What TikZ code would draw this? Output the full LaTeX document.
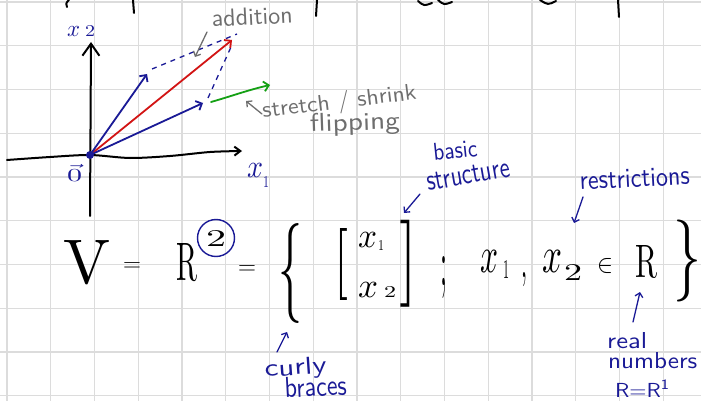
\documentclass[tikz,border=0pt]{standalone}
\usepackage{graphicx}
\usetikzlibrary{arrows.meta}
\definecolor{ink}{HTML}{1A1A96}
\definecolor{redpen}{HTML}{D21414}
\definecolor{grnpen}{HTML}{14A014}
\definecolor{grypen}{HTML}{6E6E6E}
\definecolor{gridc}{HTML}{DCDCDC}
\newcommand\hw[3]{\resizebox{#1pt}{#2pt}{#3}}
\newcommand\hwt[3]{\resizebox*{#1pt}{#2pt}{#3}}
\begin{document}
\begin{tikzpicture}[x=1pt,y=-1pt,
  lbl/.style={inner sep=0pt, anchor=base west},
  mid/.style={inner sep=0pt, anchor=center},
  vecarrow/.style={line width=1.8pt, line cap=round, -{Straight Barb[length=5pt,width=10pt]}},
  notearrow/.style={line width=1.3pt, line cap=round, -{Straight Barb[length=4pt,width=8pt]}},
  dashline/.style={ink, line width=1.3pt, dash pattern=on 5pt off 5pt},
  topstroke/.style={line width=2pt, line cap=round}]
\useasboundingbox (0,0) rectangle (701,401);
\fill[white] (0,0) rectangle (701,401);
% grid
\foreach \i in {0,...,15} \draw[gridc, line width=1.1pt] ({7+43.75*\i},0) -- ({7+43.75*\i},401);
\foreach \j in {0,...,9} \draw[gridc, line width=1.1pt] (0,{2+43.75*\j}) -- (701,{2+43.75*\j});
% cut-off strokes at the top
\draw[topstroke] (133,0) -- (134,13);
\draw[topstroke] (317,0) -- (316,16);
\draw[topstroke] (618,0) -- (619,17);
\draw[topstroke] (69,0) .. controls (66,3) .. (67,7);
\draw[topstroke] (418,1) .. controls (424,6) .. (432,3);
\draw[topstroke] (438,0) .. controls (444,5) .. (452,2);
\draw[topstroke] (540,0) .. controls (548,5) .. (556,1);
% axes
\coordinate (O) at (90,155);
\coordinate (ybot) at (90,216);
\coordinate (ytop) at (91,42);
\draw[line width=2pt, line cap=round, -{Straight Barb[length=12pt,width=17pt]}] (ybot) -- (ytop);
\draw[line width=2pt, line cap=round, -{Straight Barb[length=6pt,width=9pt]}]
  plot[smooth] coordinates {(7,160) (50,157) (90,155) (130,158) (170,156) (210,152) (242,151)};
% vectors
\coordinate (A) at (147,74);
\coordinate (B) at (203,103);
\coordinate (C) at (232,40);
\coordinate (G0) at (211,102);
\coordinate (G1) at (270,85);
\coordinate (D0) at (152,69);
\coordinate (D1) at (237,34);
\coordinate (E0) at (208,98);
\coordinate (E1) at (231,47);
\draw[dashline] (D0) -- (D1);
\draw[dashline] (E0) -- (E1);
\draw[vecarrow, redpen] (O) -- (C);
\draw[vecarrow, ink] (O) -- (A);
\draw[vecarrow, ink] (O) -- (B);
\draw[vecarrow, grnpen] (G0) .. controls (232,96) and (248,90) .. (G1);
\fill[ink] (O) circle (4pt);
% axis labels
\node[lbl, text=ink] (x2lab) at (67,37) {\hw{13}{10}{$x$}\hspace{5pt}\hw{10}{11}{2}};
\node[lbl, text=ink] (zero) at (67,181) {\hw{15}{17}{$\vec{0}$}};
\node[lbl, text=ink] (x1lab) at (247,177) {\hw{16}{14}{$x$}\raisebox{-10pt}{\hw{6}{11}{1}}};
% gray notes
\node[lbl, rotate=3, text=grypen] (addlab) at (212,27) {\hw{81}{17}{\sffamily addition}};
\coordinate (addA) at (207,32);
\coordinate (addB) at (195,57);
\draw[notearrow, grypen] (addA) -- (addB);
\node[lbl, rotate=7, text=grypen] (stlab) at (263,118) {\hw{155}{17}{\sffamily stretch / shrink}};
\node[lbl, rotate=2, text=grypen] (fliplab) at (310,132) {\hw{90}{18}{\sffamily flipping}};
\coordinate (stA) at (262,114);
\coordinate (stB) at (246,101);
\draw[notearrow, grypen] (stA) -- (stB);
% equation
\node[lbl] (V) at (63,283) {\hw{47}{43}{V}};
\node[inner sep=0pt, anchor=base] (eqa) at (132,271) {\fontsize{24}{24}\selectfont$=$};
\node[lbl] (R2) at (176,280) {\hw{21}{37}{R}};
\node[circle, draw=ink, line width=1.4pt, minimum size=37pt, inner sep=0pt] (c2) at (216,238) {\hw{20}{16}{2}};
\node[inner sep=0pt, anchor=base] (eqb) at (247,274.5) {\fontsize{30}{30}\selectfont$=$};
\node[mid] (lbrace) at (290,273) {\hwt{24}{100}{$\{$}};
\node[mid] (lbrack) at (341,264) {\hwt{14}{72}{$[$}};
\node[lbl] (m1x) at (358,247) {\hw{19}{15}{$x$}};
\node[lbl] (m1s) at (378,250) {\hw{6}{10}{1}};
\node[lbl] (m2x) at (358,297) {\hw{20}{15}{$x$}};
\node[lbl] (m2s) at (384,297) {\hw{12}{11}{2}};
\node[mid] (rbrack) at (408,263.5) {\hwt{18}{87}{$]$}};
\node[lbl] (semi) at (440,285) {\hw{7}{29}{;}};
\node[lbl] (ax1) at (480,272) {\hw{18}{22}{$x$}};
\node[lbl] (as1) at (503,278) {\hw{6}{18}{1}};
\node[lbl] (comma) at (521,277) {\hw{6}{5}{,}};
\node[lbl] (ax2) at (542,272) {\hw{20}{22}{$x$}};
\node[lbl] (as2) at (564,280) {\hw{18}{16}{2}};
\node[lbl] (elem) at (597,272) {\hw{16}{14}{$\in$}};
\node[lbl] (Rr) at (635,277) {\hw{22}{32}{R}};
\node[mid] (rbrace) at (687,261) {\hwt{28}{82}{$\}$}};
% blue notes
\node[lbl, rotate=6, text=ink] (basic) at (434,161) {\hw{44}{17}{\sffamily basic}};
\node[lbl, rotate=10, text=ink] (struct) at (428,191) {\hw{84}{17}{\sffamily structure}};
\coordinate (bsA) at (420,194);
\coordinate (bsB) at (404,213);
\draw[notearrow, ink] (bsA) -- (bsB);
\node[lbl, rotate=3, text=ink] (restr) at (580,190) {\hw{110}{18}{\sffamily restrictions}};
\coordinate (reA) at (583,197);
\coordinate (reB) at (574,223);
\draw[notearrow, ink] (reA) -- (reB);
\node[lbl, rotate=4, text=ink] (curly) at (265,377) {\hw{62}{17}{\sffamily curly}};
\node[lbl, rotate=3, text=ink] (braces) at (285,398) {\hw{62}{20}{\sffamily braces}};
\coordinate (cbA) at (277,352);
\coordinate (cbB) at (287,332);
\draw[notearrow, ink] (cbA) -- (cbB);
\node[lbl, text=ink] (real) at (607,348) {\hw{40}{16}{\sffamily real}};
\node[lbl, text=ink] (numbers) at (608,368) {\hw{89}{16}{\sffamily numbers}};
\node[lbl, text=ink] (rr1) at (615,397) {\hw{55}{17}{\sffamily R=R\textsuperscript{1}}};
\coordinate (rnA) at (633,322);
\coordinate (rnB) at (640,292);
\draw[notearrow, ink] (rnA) -- (rnB);
\end{tikzpicture}
\end{document}
